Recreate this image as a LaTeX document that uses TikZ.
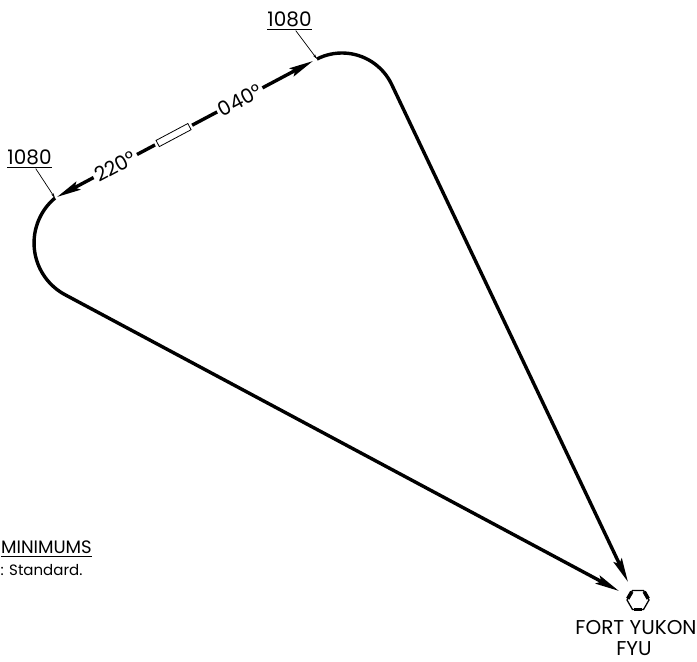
\documentclass[tikz,border=0pt]{standalone}
\usepackage{fontspec}
\setmainfont{Poppins}
\usetikzlibrary{calc,arrows.meta}

\begin{document}
\begin{tikzpicture}[x=1pt,y=1pt,
    track/.style={line width=3.4pt},
    bigtip/.style={-{Stealth[length=24pt,width=9pt,inset=4pt]}},
    leader/.style={line width=0.7pt,-{Stealth[length=5pt,width=2.4pt]}},
    lbl/.style={font=\fontsize{20}{23}\selectfont,inner sep=0pt},
    hdg/.style={font=\fontsize{20}{23}\selectfont,inner sep=2.5pt,rotate=28}]
    \useasboundingbox (0,0) rectangle (697,662);
    \coordinate (turnR) at (317,603);
    \coordinate (turnL) at (55,464);
    \coordinate (in040) at (313,601);
    \coordinate (in220) at (57,465);
    \coordinate (fyuR) at (628,80);
    \coordinate (fyuL) at (619,71);
    \coordinate (fyu) at (638,62);

    % inbound leg
    \node[hdg] (hdg220) at ($(in220)!66pt!(in040)$) {220°};
    \node[hdg] (hdg040) at ($(in220)!207pt!(in040)$) {040°};
    \node[draw,line width=0.8pt,rotate=28,minimum width=36pt,minimum height=7pt,inner sep=0pt,outer sep=3pt] (fix) at ($(in220)!132pt!(in040)$) {};
    \draw[track,bigtip](hdg220)--(in220);
    \draw[track](hdg220)--(fix);
    \draw[track](fix)--(hdg040);
    \draw[track,bigtip](hdg040)--(in040);

    % turns and legs to the station
    \draw[track,bigtip](turnR) arc[start angle=117,end angle=25.6,radius=55pt]--(fyuR);
    \draw[track,bigtip](turnL) arc[start angle=130,end angle=241.6,radius=58.7pt]--(fyuL);

    % altitudes
    \node[lbl,anchor=base] (altR) at (289.5,635) {1080};
    \draw[line width=0.8pt]([yshift=-2pt]altR.south west)--([yshift=-2pt]altR.south east);
    \draw[leader]($(altR.south west)!0.64!(altR.south east)+(0,-3)$)--(turnR);
    \node[lbl,anchor=base] (altL) at (29.5,497) {1080};
    \draw[line width=0.8pt]([yshift=-2pt]altL.south west)--([yshift=-2pt]altL.south east);
    \draw[leader]($(altL.south west)!0.64!(altL.south east)+(0,-3)$)--(turnL);

    % station
    \draw[line width=1.3pt]($(fyu)+(0:11)$) \foreach \a in {60,120,...,300}{--($(fyu)+(\a:11)$)}--cycle;
    \foreach \a in {0,120,240}
      \draw[line width=3.6pt,shorten <=1.5pt,shorten >=1.5pt]($(fyu)+(\a:11)$)--($(fyu)+(\a+60:11)$);
    \node[lbl,anchor=base] (fyuname) at (636,27) {FORT YUKON};
    \node[lbl,anchor=base] (fyuid) at (634,6) {FYU};

    % minimums
    \node[lbl,anchor=base east,font=\fontsize{18}{21}\selectfont] (minhdr) at (92,108) {MINIMUMS};
    \draw[line width=0.8pt]([yshift=-2.5pt]minhdr.south west)--([yshift=-2.5pt]minhdr.south east);
    \node[lbl,anchor=base west,font=\fontsize{15}{18}\selectfont] (minstd) at (0.5,86) {: Standard.};
\end{tikzpicture}
\end{document}
